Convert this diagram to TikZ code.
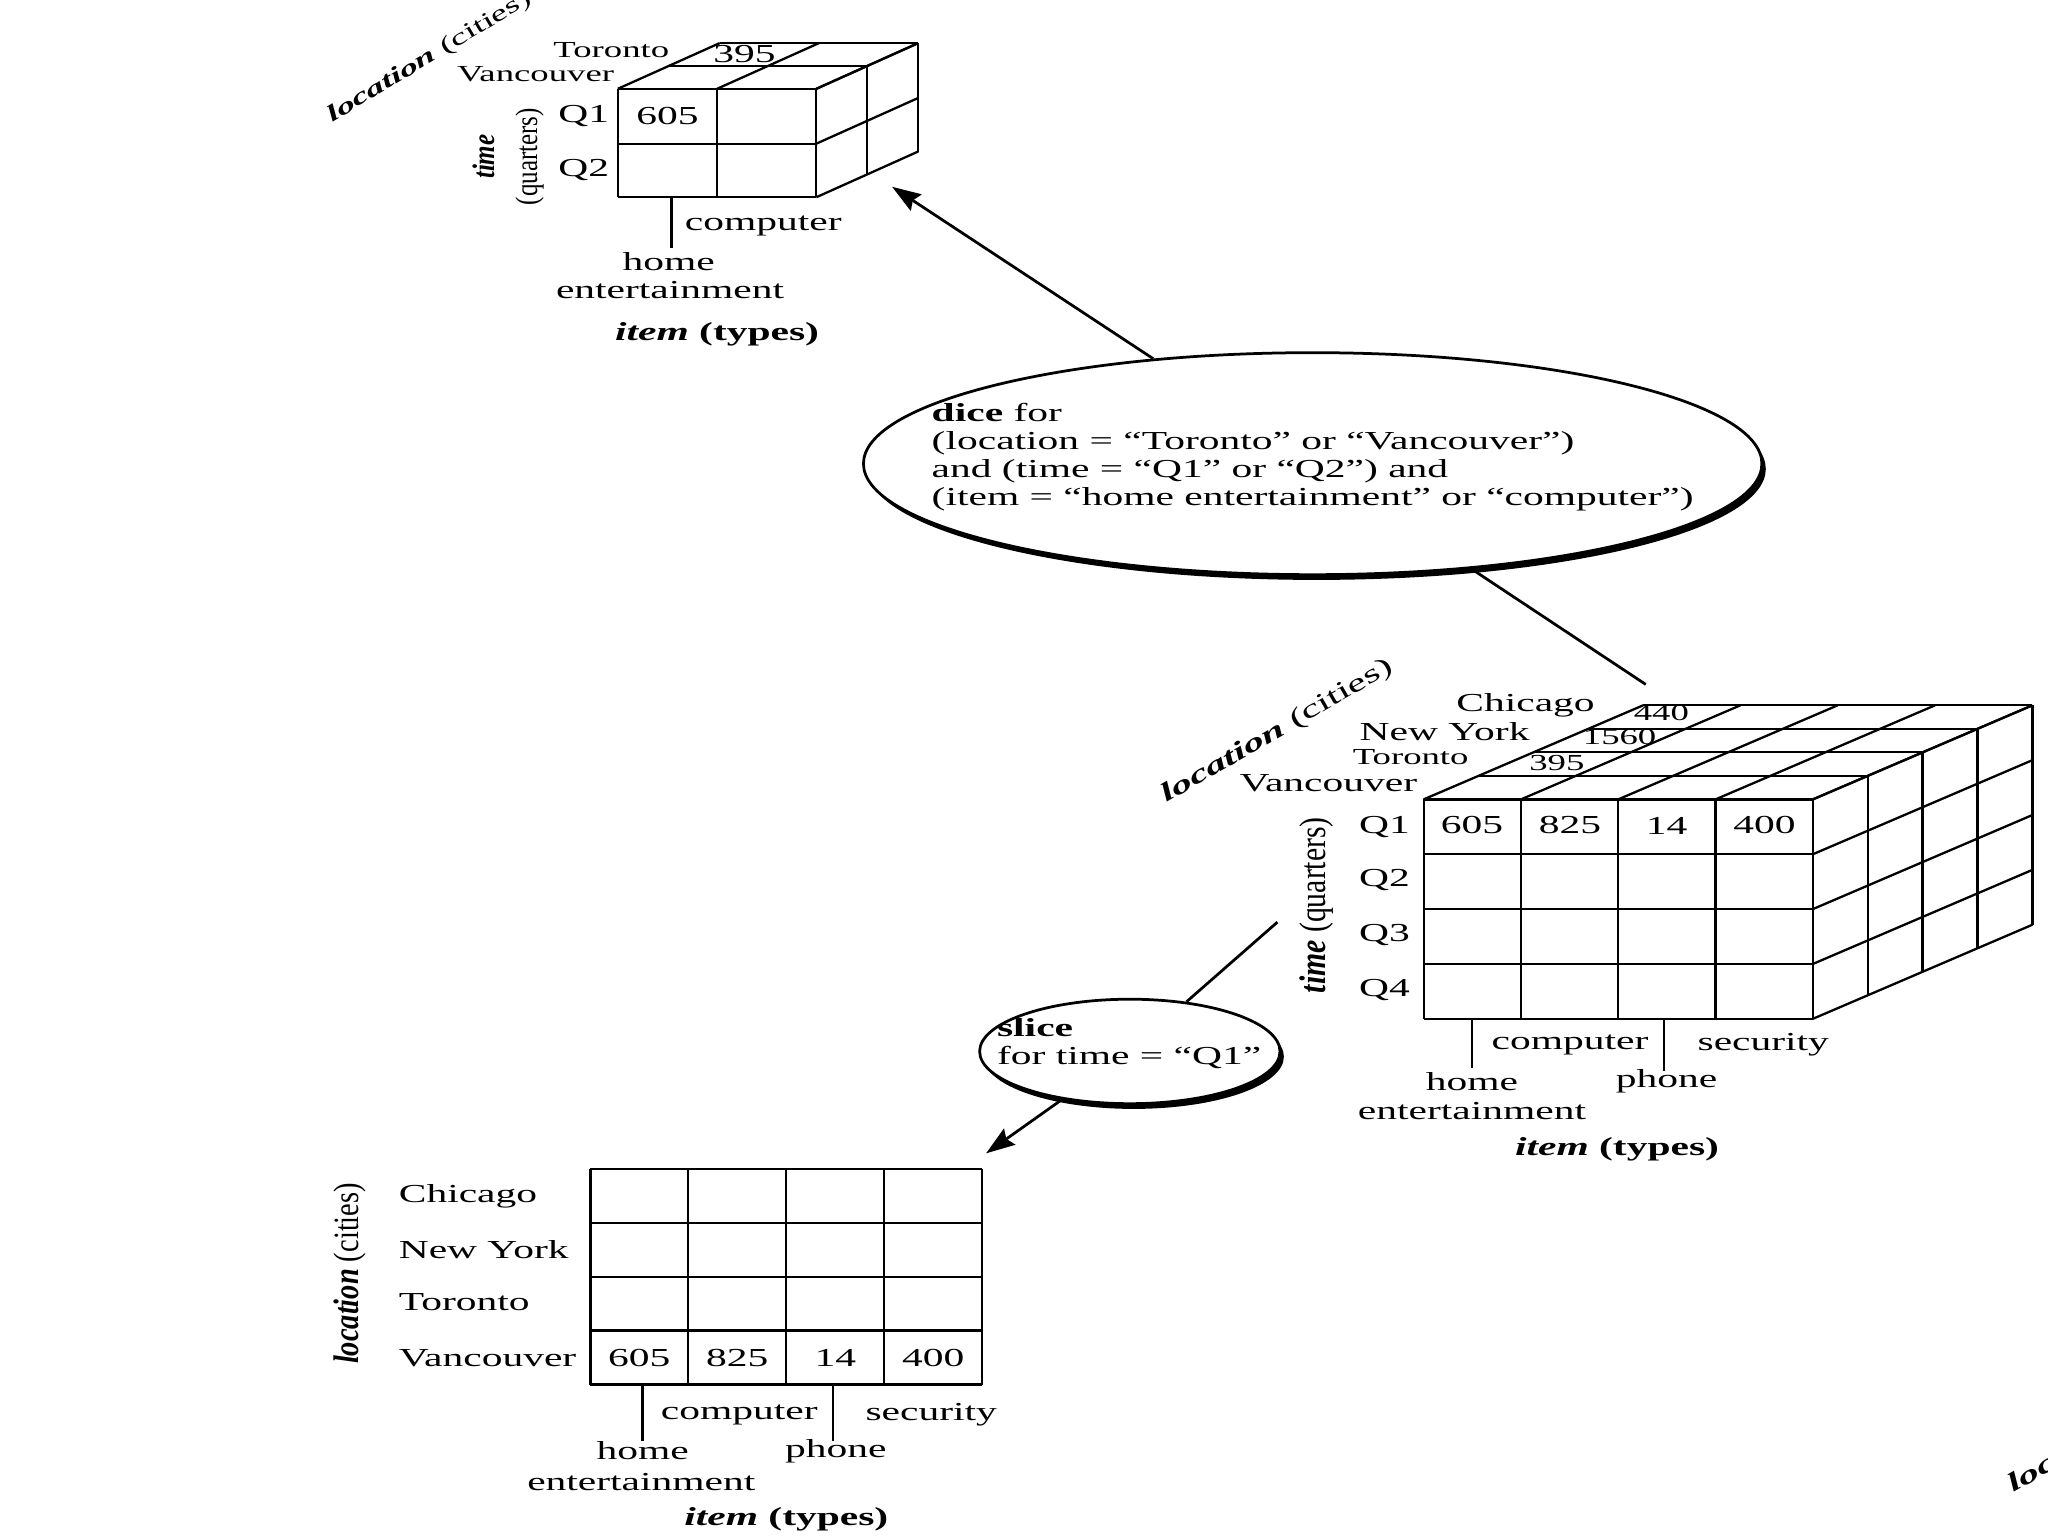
\documentclass[tikz,border=0pt]{standalone}
\usepackage{fontspec}
\setmainfont{Liberation Serif}[FakeStretch=1.6]
\newfontfamily\rotfont{Liberation Serif}[FakeStretch=0.8]
\usetikzlibrary{arrows.meta, positioning, shapes.geometric, shadows}

\begin{document}
\begin{tikzpicture}[
  x=0.02cm, y=-0.02cm,
  font=\fontsize{11.3}{13}\selectfont,
  cubeline/.style={line width=1pt},
  opellipse/.style={draw, ellipse, line width=1.2pt, fill=white, inner sep=0pt,
    drop shadow={shadow xshift=0.06cm, shadow yshift=-0.08cm, fill=black, opacity=1}},
  optext/.style={align=left, inner sep=0pt, font=\fontsize{11.3}{12.3}\selectfont},
  small/.style={inner sep=1pt, font=\fontsize{10}{12}\selectfont},
  upaxis/.style={rotate=90, inner sep=0pt, align=center},
  link/.style={line width=1.2pt},
  arr/.style={link, -{Stealth[length=0.44cm, width=0.3cm, inset=0.06cm]}}
]
  \useasboundingbox (0,0) rectangle (1568,1176);
  \fill[white] (0,0) rectangle (1568,1176);

  % small cube (dice result)
  \foreach \c in {473,549,625} \draw[cubeline] (\c,68) -- (\c,151);
  \foreach \r in {68,110,151} \draw[cubeline] (473,\r) -- (625,\r);
  \foreach \k in {1,2} \draw[cubeline] ({473+39*\k},{68-17.5*\k}) -- ({625+39*\k},{68-17.5*\k});
  \foreach \c in {473,549,625} \draw[cubeline] (\c,68) -- ++(78,-35);
  \foreach \r in {68,110,151} \draw[cubeline] (625,\r) -- ++(78,-35);
  \foreach \k in {1,2} \draw[cubeline] ({625+39*\k},{68-17.5*\k}) -- ++(0,83);

  \node[small, rotate=31] (sloc) at (329,44) {\textbf{\textit{location}} (cities)};
  \node[small] (stor) at (468,38) {Toronto};
  \node[small] (svan) at (410,57) {Vancouver};
  \node (s395) at (570,41) {395};
  \node (s605) at (511,89) {605};
  \node (sq1) at (447,89) {Q1};
  \node (sq2) at (447,130) {Q2};
  \node[upaxis, font=\rotfont\fontsize{13.6}{18.7}\selectfont] (stime) at (389,120) {\textbf{\textit{time}}\\(quarters)};
  \node[anchor=west, inner sep=0pt] (scomp) at (524,173) {computer};
  \node (shome) at (512,200) {home};
  \node (sent) at (513,222) {entertainment};
  \node (sitem) at (549,256) {\textbf{\textit{item}} \textbf{(types)}};
  \draw[cubeline] (514,151) -- (514,190);

  % dice operation
  \node[opellipse, minimum width=13.76cm, minimum height=3.4cm] (dice) at (1005,355) {};
  \node[optext, anchor=west] (dicetext) at (713,350)
    {\textbf{dice} for\\(location = “Toronto” or “Vancouver”)\\and (time = “Q1” or “Q2”) and\\(item = “home entertainment” or “computer”)};

  % big cube
  \foreach \c in {0,...,4} \draw[cubeline] ({1090+74.5*\c},612) -- ({1090+74.5*\c},780);
  \foreach \r in {0,...,4} \draw[cubeline] (1090,{612+42*\r}) -- (1388,{612+42*\r});
  \foreach \k in {1,...,4} \draw[cubeline] ({1090+42*\k},{612-18*\k}) -- ({1388+42*\k},{612-18*\k});
  \foreach \c in {0,...,4} \draw[cubeline] ({1090+74.5*\c},612) -- ++(168,-72);
  \foreach \r in {0,...,4} \draw[cubeline] (1388,{612+42*\r}) -- ++(168,-72);
  \foreach \k in {1,...,4} \draw[cubeline] ({1388+42*\k},{612-18*\k}) -- ++(0,168);

  \node[rotate=30] (bloc) at (978,560) {\textbf{\textit{location}} (cities)};
  \node (bchi) at (1168,540) {Chicago};
  \node[small] (b440) at (1272,546) {440};
  \node (bny) at (1106,560) {New York};
  \node[small] (b1560) at (1240,564) {1560};
  \node[small] (btor) at (1080,580) {Toronto};
  \node[small] (b395) at (1192,584) {395};
  \node (bvan) at (1017,600) {Vancouver};
  \foreach \i/\y in {1/633,2/674,3/716,4/758} \node (bq\i) at (1060,\y) {Q\i};
  \foreach \v/\x in {605/1127,825/1202,14/1276,400/1351} \node (b\v) at (\x,632) {\v};
  \node[upaxis, font=\rotfont\fontsize{16.2}{18}\selectfont] (btime) at (1008,693) {\textbf{\textit{time}} (quarters)};
  \node (bcomp) at (1202,800) {computer};
  \node (bsec) at (1350,800) {security};
  \node (bhome) at (1127,828) {home};
  \node (bphone) at (1276,828) {phone};
  \node (bent) at (1127,851) {entertainment};
  \node (bitem) at (1238,880) {\textbf{\textit{item}} \textbf{(types)}};
  \draw[cubeline] (1127,780) -- (1127,818);
  \draw[cubeline] (1274,780) -- (1274,820);

  % slice operation
  \node[opellipse, minimum width=4.6cm, minimum height=1.6cm] (slice) at (865,805) {};
  \node[optext, anchor=west] (slicetext) at (763,799) {\textbf{slice}\\for time = “Q1”};

  % slice result
  \foreach \c in {0,...,4} \draw[cubeline] ({452+75*\c},895) -- ({452+75*\c},1060);
  \foreach \r in {0,...,4} \draw[cubeline] (452,{895+41.25*\r}) -- (752,{895+41.25*\r});
  \node[upaxis, font=\rotfont\fontsize{15.5}{18}\selectfont] (tloc) at (268,975) {\textbf{\textit{location}} (cities)};
  \node[anchor=west, inner sep=0pt] (tchi) at (305,916) {Chicago};
  \node[anchor=west, inner sep=0pt] (tny) at (305,957) {New York};
  \node[anchor=west, inner sep=0pt] (ttor) at (305,997) {Toronto};
  \node[anchor=west, inner sep=0pt] (tvan) at (305,1040) {Vancouver};
  \foreach \v/\x in {605/489.5,825/564.5,14/639.5,400/714.5} \node (t\v) at (\x,1040) {\v};
  \node (tcomp) at (566,1083) {computer};
  \node (tsec) at (713,1083) {security};
  \node (thome) at (492,1111) {home};
  \node (tphone) at (640,1111) {phone};
  \node (tent) at (491,1135) {entertainment};
  \node (titem) at (602,1163) {\textbf{\textit{item}} \textbf{(types)}};
  \draw[cubeline] (492,1060) -- (492,1103);
  \draw[cubeline] (638,1060) -- (638,1103);

  % cut-off label at the corner
  \node[rotate=30, anchor=west] (cutloc) at (1534,1142) {\textbf{\textit{location}} (cities)};

  % connectors
  \coordinate (scube) at (683,143);
  \coordinate (bcube) at (1260,524);
  \coordinate (bside) at (978,706);
  \coordinate (tbl) at (755,883);
  \draw[arr] (dice) -- (scube);
  \draw[link] (dice) -- (bcube);
  \draw[link] (bside) -- (slice);
  \draw[arr] (slice) -- (tbl);
\end{tikzpicture}
\end{document}
